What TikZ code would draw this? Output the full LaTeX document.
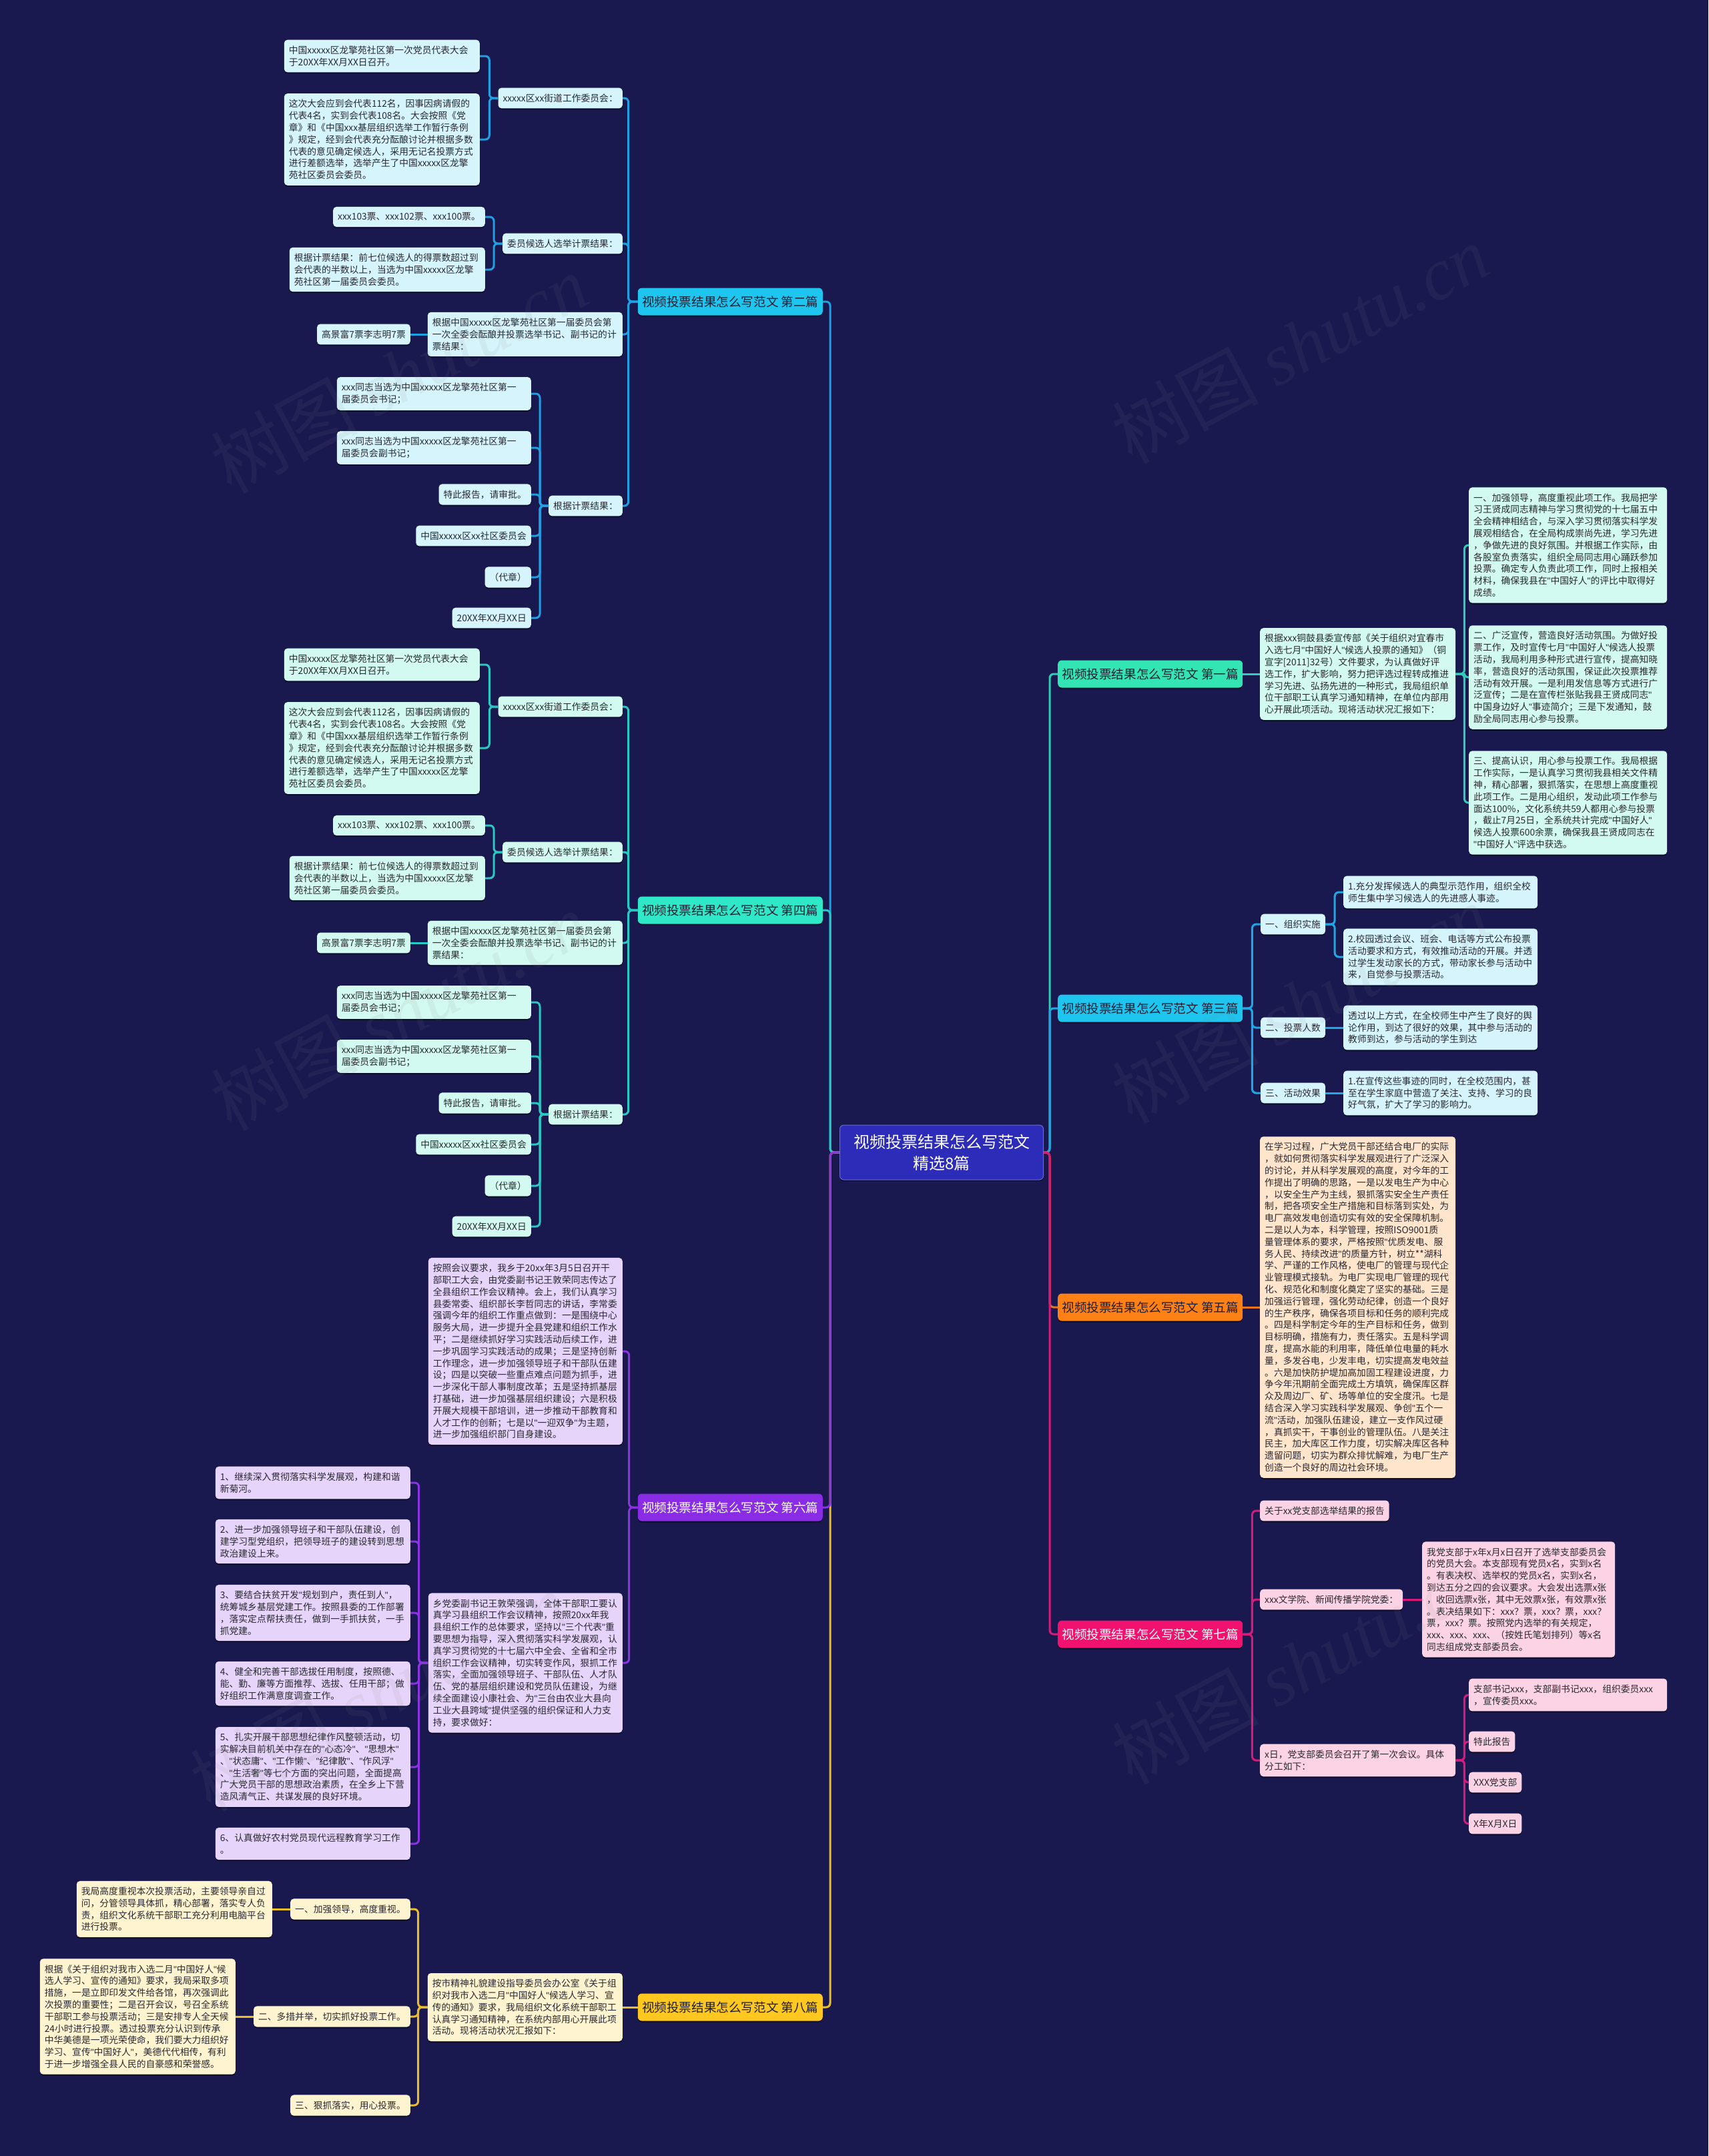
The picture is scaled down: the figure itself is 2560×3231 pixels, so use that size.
\documentclass[tikz,border=0pt]{standalone}
\usepackage{fontspec}
\setmainfont{Noto Sans CJK SC}
\newfontfamily\wmfont{Liberation Serif}
\newfontfamily\qfont{Liberation Sans}
\newcommand\qq{{\qfont"}}
\usetikzlibrary{shadows}
\definecolor{bgc}{RGB}{25,25,80}
\definecolor{kidtext}{RGB}{40,40,48}
\definecolor{maintext}{RGB}{30,30,50}
\definecolor{ctrfill}{RGB}{44,44,185}
\definecolor{cyanM}{RGB}{30,197,238}
\definecolor{cyanL}{RGB}{214,244,252}
\definecolor{cyanLine}{RGB}{30,160,226}
\definecolor{mintM}{RGB}{46,232,200}
\definecolor{mintMb}{RGB}{52,229,180}
\definecolor{mintL}{RGB}{210,250,240}
\definecolor{mintLine}{RGB}{40,200,195}
\definecolor{mintLineb}{RGB}{46,205,181}
\definecolor{cyanLineb}{RGB}{31,168,228}
\definecolor{orM}{RGB}{255,128,20}
\definecolor{orL}{RGB}{255,229,204}
\definecolor{orLine}{RGB}{232,116,28}
\definecolor{viM}{RGB}{138,43,230}
\definecolor{viL}{RGB}{231,212,250}
\definecolor{viLine}{RGB}{138,51,224}
\definecolor{piM}{RGB}{240,18,110}
\definecolor{piL}{RGB}{252,211,229}
\definecolor{piLine}{RGB}{216,27,122}
\definecolor{yeM}{RGB}{255,200,32}
\definecolor{yeL}{RGB}{255,244,208}
\definecolor{yeLine}{RGB}{233,190,42}
\tikzset{
  boxshadow/.style={drop shadow={shadow xshift=0pt,shadow yshift=-2pt,opacity=0.45,fill=black}},
  kid/.style={rounded corners=5pt,inner xsep=7pt,inner ysep=9pt,font=\fontsize{13.8}{17.8}\selectfont,align=left,text=kidtext,boxshadow},
  lvl1/.style={rounded corners=6pt,minimum width=277pt,minimum height=41pt,inner sep=0pt,font=\fontsize{18.6}{22}\selectfont,text=maintext,boxshadow},
  conn/.style={line width=3pt,rounded corners=6pt},
  wm/.style={font=\fontsize{110}{120}\selectfont,text=gray,text opacity=0.09,rotate=28},
}
% subtree used by two branches
\newcommand\treeA[6]{%
\begin{scope}[yshift=-#2pt]
\node[lvl1,anchor=east,fill=#3] (#1m) at (1233,452) {视频投票结果怎么写范文 #6};
\begin{scope}[every node/.append style={kid,fill=#4,anchor=east}]
\node (#1a) at (933,147) {xxxxx区xx街道工作委员会：};
\node[text width=279pt] (#1a1) at (719,84) {中国xxxxx区龙擎苑社区第一次党员代表大会\\于20XX年XX月XX日召开。};
\node[text width=279pt] (#1a2) at (719,209) {这次大会应到会代表112名，因事因病请假的\\代表4名，实到会代表108名。大会按照《党\\章》和《中国xxx基层组织选举工作暂行条例\\》规定，经到会代表充分酝酿讨论并根据多数\\代表的意见确定候选人，采用无记名投票方式\\进行差额选举，选举产生了中国xxxxx区龙擎\\苑社区委员会委员。};
\node (#1b) at (933,365) {委员候选人选举计票结果：};
\node (#1b1) at (727,325) {xxx103票、xxx102票、xxx100票。};
\node[text width=279pt] (#1b2) at (727,404) {根据计票结果：前七位候选人的得票数超过到\\会代表的半数以上，当选为中国xxxxx区龙擎\\苑社区第一届委员会委员。};
\node[text width=278pt] (#1c) at (933,501) {根据中国xxxxx区龙擎苑社区第一届委员会第\\一次全委会酝酿并投票选举书记、副书记的计\\票结果：};
\node (#1c1) at (615,501) {高景富7票李志明7票};
\node (#1d) at (933,758) {根据计票结果：};
\node[text width=277pt] (#1d1) at (796,590) {xxx同志当选为中国xxxxx区龙擎苑社区第一\\届委员会书记；};
\node[text width=277pt] (#1d2) at (796,671) {xxx同志当选为中国xxxxx区龙擎苑社区第一\\届委员会副书记；};
\node (#1d3) at (796,741) {特此报告，请审批。};
\node (#1d4) at (796,803) {中国xxxxx区xx社区委员会};
\node (#1d5) at (796,865) {（代章）};
\node (#1d6) at (796,926) {20XX年XX月XX日};
\end{scope}
\foreach \c in {a,b,c,d} \draw[conn,draw=#5] (#1m.west) -- ++(-14,0) |- (#1\c.east);
\foreach \c in {a1,a2} \draw[conn,draw=#5] (#1a.west) -- ++(-13,0) |- (#1\c.east);
\foreach \c in {b1,b2} \draw[conn,draw=#5] (#1b.west) -- ++(-13,0) |- (#1\c.east);
\draw[conn,draw=#5] (#1c.west) -- (#1c1.east);
\foreach \c in {d1,d2,d3,d4,d5,d6} \draw[conn,draw=#5] (#1d.west) -- ++(-13,0) |- (#1\c.east);
\end{scope}}
\begin{document}
\begin{tikzpicture}[x=1pt,y=-1pt]
\fill[bgc] (0,0) rectangle (2560,3231);
\useasboundingbox (0,0) rectangle (2560,3231);

% center
\node[rounded corners=6pt,fill=ctrfill,draw=ctrfill!70!white,line width=1pt,minimum width=305pt,minimum height=82pt,inner sep=0pt,align=center,text=white,font=\fontsize{24}{32}\selectfont,boxshadow] (ctr) at (1411,1727) {视频投票结果怎么写范文\\精选8篇};

% left: second and fourth
\treeA{p}{0}{cyanM}{cyanL}{cyanLine}{第二篇}
\treeA{q}{912}{mintM}{mintL}{mintLine}{第四篇}

% sixth
\node[lvl1,anchor=east,fill=viM,text=white] (m6) at (1233,2259) {视频投票结果怎么写范文 第六篇};
\begin{scope}[every node/.append style={kid,fill=viL,anchor=east}]
\node[text width=277pt] (m6a) at (933,2025) {按照会议要求，我乡于20xx年3月5日召开干\\部职工大会，由党委副书记王敦荣同志传达了\\全县组织工作会议精神。会上，我们认真学习\\县委常委、组织部长李哲同志的讲话，李常委\\强调今年的组织工作重点做到：一是围绕中心\\服务大局，进一步提升全县党建和组织工作水\\平；二是继续抓好学习实践活动后续工作，进\\一步巩固学习实践活动的成果；三是坚持创新\\工作理念，进一步加强领导班子和干部队伍建\\设；四是以突破一些重点难点问题为抓手，进\\一步深化干部人事制度改革；五是坚持抓基层\\打基础，进一步加强基层组织建设；六是积极\\开展大规模干部培训，进一步推动干部教育和\\人才工作的创新；七是以\qq{}一迎双争\qq{}为主题，\\进一步加强组织部门自身建设。};
\node[text width=277pt] (m6b) at (933,2492) {乡党委副书记王敦荣强调，全体干部职工要认\\真学习县组织工作会议精神，按照20xx年我\\县组织工作的总体要求，坚持以\qq{}三个代表\qq{}重\\要思想为指导，深入贯彻落实科学发展观，认\\真学习贯彻党的十七届六中全会、全省和全市\\组织工作会议精神，切实转变作风，狠抓工作\\落实，全面加强领导班子、干部队伍、人才队\\伍、党的基层组织建设和党员队伍建设，为继\\续全面建设小康社会、为\qq{}三台由农业大县向\\工业大县跨域\qq{}提供坚强的组织保证和人力支\\持，要求做好：};
\node[text width=278pt] (b1) at (615,2222) {1、继续深入贯彻落实科学发展观，构建和谐\\新菊河。};
\node[text width=278pt] (b2) at (615,2310) {2、进一步加强领导班子和干部队伍建设，创\\建学习型党组织，把领导班子的建设转到思想\\政治建设上来。};
\node[text width=278pt] (b3) at (615,2417) {3、要结合扶贫开发\qq{}规划到户，责任到人\qq{}，\\统筹城乡基层党建工作。按照县委的工作部署\\，落实定点帮扶责任，做到一手抓扶贫，一手\\抓党建。};
\node[text width=278pt] (b4) at (615,2523) {4、健全和完善干部选拔任用制度，按照德、\\能、勤、廉等方面推荐、选拔、任用干部；做\\好组织工作满意度调查工作。};
\node[text width=278pt] (b5) at (615,2648) {5、扎实开展干部思想纪律作风整顿活动，切\\实解决目前机关中存在的\qq{}心态冷\qq{}、\qq{}思想木\qq{}\\、\qq{}状态庸\qq{}、\qq{}工作懒\qq{}、\qq{}纪律散\qq{}、\qq{}作风浮\qq{}\\、\qq{}生活奢\qq{}等七个方面的突出问题，全面提高\\广大党员干部的思想政治素质，在全乡上下营\\造风清气正、共谋发展的良好环境。};
\node[text width=278pt] (b6) at (615,2763) {6、认真做好农村党员现代远程教育学习工作\\。};
\end{scope}
\foreach \c in {m6a,m6b} \draw[conn,draw=viLine] (m6.west) -- ++(-13,0) |- (\c.east);
\foreach \c in {b1,b2,b3,b4,b5,b6} \draw[conn,draw=viLine] (m6b.west) -- ++(-14,0) |- (\c.east);

% eighth
\node[lvl1,anchor=east,fill=yeM] (m8) at (1233,3008) {视频投票结果怎么写范文 第八篇};
\begin{scope}[every node/.append style={kid,fill=yeL,anchor=east}]
\node[text width=278pt] (m8a) at (933,3008) {按市精神礼貌建设指导委员会办公室《关于组\\织对我市入选二月\qq{}中国好人\qq{}候选人学习、宣\\传的通知》要求，我局组织文化系统干部职工\\认真学习通知精神，在系统内部用心开展此项\\活动。现将活动状况汇报如下：};
\node (c1) at (615,2861) {一、加强领导，高度重视。};
\node (c2) at (615,3022) {二、多措并举，切实抓好投票工作。};
\node (c3) at (615,3155) {三、狠抓落实，用心投票。};
\node[text width=279pt] (c1a) at (408,2861) {我局高度重视本次投票活动，主要领导亲自过\\问，分管领导具体抓，精心部署，落实专人负\\责，组织文化系统干部职工充分利用电脑平台\\进行投票。};
\node[text width=279pt] (c2a) at (353,3022) {根据《关于组织对我市入选二月\qq{}中国好人\qq{}候\\选人学习、宣传的通知》要求，我局采取多项\\措施，一是立即印发文件给各馆，再次强调此\\次投票的重要性；二是召开会议，号召全系统\\干部职工参与投票活动；三是安排专人全天候\\24小时进行投票。透过投票充分认识到传承\\中华美德是一项光荣使命，我们要大力组织好\\学习、宣传\qq{}中国好人\qq{}，美德代代相传，有利\\于进一步增强全县人民的自豪感和荣誉感。};
\end{scope}
\draw[conn,draw=yeLine] (m8.west) -- (m8a.east);
\foreach \c in {c1,c2,c3} \draw[conn,draw=yeLine] (m8a.west) -- ++(-14,0) |- (\c.east);
\draw[conn,draw=yeLine] (c1.west) -- (c1a.east);
\draw[conn,draw=yeLine] (c2.west) -- (c2a.east);

% first
\node[lvl1,anchor=west,fill=mintMb] (m1) at (1585,1010) {视频投票结果怎么写范文 第一篇};
\begin{scope}[every node/.append style={kid,fill=mintL,anchor=west}]
\node[text width=279pt] (m1a) at (1888,1010) {根据xxx铜鼓县委宣传部《关于组织对宜春市\\入选七月\qq{}中国好人\qq{}候选人投票的通知》（铜\\宣字[2011]32号）文件要求，为认真做好评\\选工作，扩大影响，努力把评选过程转成推进\\学习先进、弘扬先进的一种形式，我局组织单\\位干部职工认真学习通知精神，在单位内部用\\心开展此项活动。现将活动状况汇报如下：};
\node[text width=283pt] (e1) at (2201,817) {一、加强领导，高度重视此项工作。我局把学\\习王贤成同志精神与学习贯彻党的十七届五中\\全会精神相结合，与深入学习贯彻落实科学发\\展观相结合，在全局构成崇尚先进，学习先进\\，争做先进的良好氛围。并根据工作实际，由\\各股室负责落实，组织全局同志用心踊跃参加\\投票。确定专人负责此项工作，同时上报相关\\材料，确保我县在\qq{}中国好人\qq{}的评比中取得好\\成绩。};
\node[text width=283pt] (e2) at (2201,1015) {二、广泛宣传，营造良好活动氛围。为做好投\\票工作，及时宣传七月\qq{}中国好人\qq{}候选人投票\\活动，我局利用多种形式进行宣传，提高知晓\\率，营造良好的活动氛围，保证此次投票推荐\\活动有效开展。一是利用发信息等方式进行广\\泛宣传；二是在宣传栏张贴我县王贤成同志\qq{}\\中国身边好人\qq{}事迹简介；三是下发通知，鼓\\励全局同志用心参与投票。};
\node[text width=283pt] (e3) at (2201,1203) {三、提高认识，用心参与投票工作。我局根据\\工作实际，一是认真学习贯彻我县相关文件精\\神，精心部署，狠抓落实，在思想上高度重视\\此项工作。二是用心组织，发动此项工作参与\\面达100\%，文化系统共59人都用心参与投票\\，截止7月25日，全系统共计完成\qq{}中国好人\qq{}\\候选人投票600余票，确保我县王贤成同志在\\\qq{}中国好人\qq{}评选中获选。};
\end{scope}
\draw[conn,draw=mintLineb] (m1.east) -- (m1a.west);
\foreach \c in {e1,e2,e3} \draw[conn,draw=mintLineb] (m1a.east) -- ++(13,0) |- (\c.west);

% third
\node[lvl1,anchor=west,fill=cyanM] (m3) at (1585,1511) {视频投票结果怎么写范文 第三篇};
\begin{scope}[every node/.append style={kid,fill=cyanL,anchor=west}]
\node (m3a) at (1889,1385) {一、组织实施};
\node (m3b) at (1889,1540) {二、投票人数};
\node (m3c) at (1889,1638) {三、活动效果};
\node[text width=277pt] (f1) at (2013,1337) {1.充分发挥候选人的典型示范作用，组织全校\\师生集中学习候选人的先进感人事迹。};
\node[text width=277pt] (f2) at (2013,1434) {2.校园透过会议、班会、电话等方式公布投票\\活动要求和方式，有效推动活动的开展。并透\\过学生发动家长的方式，带动家长参与活动中\\来，自觉参与投票活动。};
\node[text width=277pt] (f3) at (2013,1540) {透过以上方式，在全校师生中产生了良好的舆\\论作用，到达了很好的效果，其中参与活动的\\教师到达，参与活动的学生到达};
\node[text width=277pt] (f4) at (2013,1638) {1.在宣传这些事迹的同时，在全校范围内，甚\\至在学生家庭中营造了关注、支持、学习的良\\好气氛，扩大了学习的影响力。};
\end{scope}
\foreach \c in {m3a,m3b,m3c} \draw[conn,draw=cyanLineb] (m3.east) -- ++(14,0) |- (\c.west);
\foreach \c in {f1,f2} \draw[conn,draw=cyanLineb] (m3a.east) -- ++(14,0) |- (\c.west);
\draw[conn,draw=cyanLineb] (m3b.east) -- (f3.west);
\draw[conn,draw=cyanLineb] (m3c.east) -- (f4.west);

% fifth
\node[lvl1,anchor=west,fill=orM] (m5) at (1585,1959) {视频投票结果怎么写范文 第五篇};
\node[kid,fill=orL,anchor=west,text width=279pt] (m5a) at (1888,1959) {在学习过程，广大党员干部还结合电厂的实际\\，就如何贯彻落实科学发展观进行了广泛深入\\的讨论，并从科学发展观的高度，对今年的工\\作提出了明确的思路，一是以发电生产为中心\\，以安全生产为主线，狠抓落实安全生产责任\\制，把各项安全生产措施和目标落到实处，为\\电厂高效发电创造切实有效的安全保障机制。\\二是以人为本，科学管理，按照ISO9001质\\量管理体系的要求，严格按照\qq{}优质发电、服\\务人民、持续改进\qq{}的质量方针，树立**湖科\\学、严谨的工作风格，使电厂的管理与现代企\\业管理模式接轨。为电厂实现电厂管理的现代\\化、规范化和制度化奠定了坚实的基础。三是\\加强运行管理，强化劳动纪律，创造一个良好\\的生产秩序，确保各项目标和任务的顺利完成\\。四是科学制定今年的生产目标和任务，做到\\目标明确，措施有力，责任落实。五是科学调\\度，提高水能的利用率，降低单位电量的耗水\\量，多发谷电，少发丰电，切实提高发电效益\\。六是加快防护堤加高加固工程建设进度，力\\争今年汛期前全面完成土方填筑，确保库区群\\众及周边厂、矿、场等单位的安全度汛。七是\\结合深入学习实践科学发展观、争创\qq{}五个一\\流\qq{}活动，加强队伍建设，建立一支作风过硬\\，真抓实干，干事创业的管理队伍。八是关注\\民主，加大库区工作力度，切实解决库区各种\\遗留问题，切实为群众排忧解难，为电厂生产\\创造一个良好的周边社会环境。};
\draw[conn,draw=orLine] (m5.east) -- (m5a.west);

% seventh
\node[lvl1,anchor=west,fill=piM,text=white] (m7) at (1585,2449) {视频投票结果怎么写范文 第七篇};
\begin{scope}[every node/.append style={kid,fill=piL,anchor=west}]
\node (g1) at (1888,2264) {关于xx党支部选举结果的报告};
\node (g2) at (1888,2397) {xxx文学院、新闻传播学院党委：};
\node[text width=279pt] (g3) at (1888,2638) {x日，党支部委员会召开了第一次会议。具体\\分工如下：};
\node[text width=275pt] (gH) at (2131,2397) {我党支部于x年x月x日召开了选举支部委员会\\的党员大会。本支部现有党员x名，实到x名\\。有表决权、选举权的党员x名，实到x名，\\到达五分之四的会议要求。大会发出选票x张\\，收回选票x张，其中无效票x张，有效票x张\\。表决结果如下：xxx？票，xxx？票，xxx？\\票，xxx？票。按照党内选举的有关规定，\\xxx、xxx、xxx、（按姓氏笔划排列）等x名\\同志组成党支部委员会。};
\node[text width=283pt] (h1) at (2201,2540) {支部书记xxx，支部副书记xxx，组织委员xxx\\，宣传委员xxx。};
\node (h2) at (2201,2610) {特此报告};
\node (h3) at (2201,2671) {XXX党支部};
\node (h4) at (2201,2733) {X年X月X日};
\end{scope}
\foreach \c in {g1,g2,g3} \draw[conn,draw=piLine] (m7.east) -- ++(14,0) |- (\c.west);
\draw[conn,draw=piLine] (g2.east) -- (gH.west);
\foreach \c in {h1,h2,h3,h4} \draw[conn,draw=piLine] (g3.east) -- ++(13,0) |- (\c.west);

% center to branches
\draw[conn,draw=cyanLine] (ctr.west) -- ++(-14,0) |- (pm.east);
\draw[conn,draw=mintLine] (ctr.west) -- ++(-14,0) |- (qm.east);
\draw[conn,draw=yeLine] (ctr.west) -- ++(-14,0) |- (m8.east);
\draw[conn,draw=viLine] (ctr.west) -- ++(-14,0) |- (m6.east);
\draw[conn,draw=mintLineb] (ctr.east) -- ++(9,0) |- (m1.west);
\draw[conn,draw=cyanLineb] (ctr.east) -- ++(9,0) |- (m3.west);
\draw[conn,draw=orLine] (ctr.east) -- ++(9,0) |- (m5.west);
\draw[conn,draw=piLine] (ctr.east) -- ++(9,0) |- (m7.west);

% watermarks
\foreach \p in {(598,560),(1948,515),(598,1515),(1948,1504),(567,2535),(1948,2494)}
  \node[wm] at \p {树图 {\wmfont\itshape shutu.cn}};
\end{tikzpicture}
\end{document}
